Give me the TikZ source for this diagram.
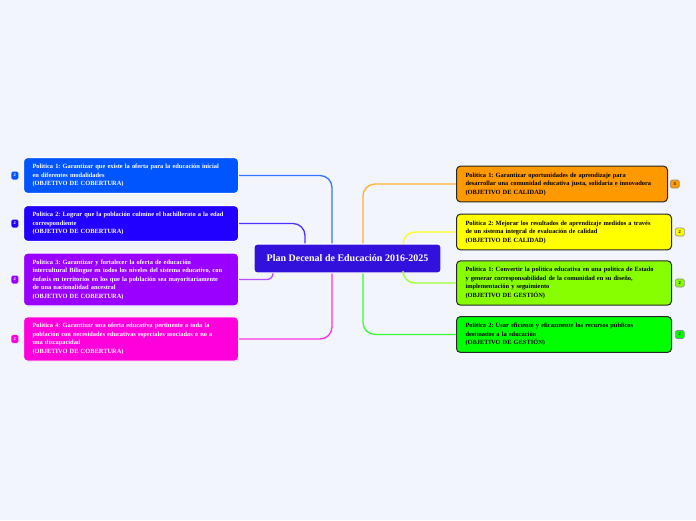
\documentclass[tikz,border=0pt]{standalone}
\usepackage{fontspec}
\setmainfont{Liberation Serif}
\usetikzlibrary{positioning,shadows}
\frenchspacing
\definecolor{plbg}{HTML}{F3F5FD}
\definecolor{plmain}{HTML}{3311DD}
\definecolor{cobA}{HTML}{0055FF}
\definecolor{cobB}{HTML}{2200FF}
\definecolor{cobC}{HTML}{9900FF}
\definecolor{cobD}{HTML}{FF00DD}
\definecolor{calA}{HTML}{FF9900}
\definecolor{calB}{HTML}{FFFF00}
\definecolor{gesA}{HTML}{88FF00}
\definecolor{gesB}{HTML}{00FF00}
\tikzset{
  bx/.style={rounded corners=4pt, align=left, anchor=west, font=\fontsize{6.4}{8.5}\selectfont\bfseries, inner xsep=9pt, inner ysep=6.5pt, text width=197pt},
  cob/.style={bx, draw=white, line width=1pt, text=white, drop shadow={opacity=0.25, shadow xshift=0.6pt, shadow yshift=-0.8pt}},
  cal/.style={bx, draw=black!85, line width=1pt, text=black},
  badge/.style={rounded corners=1.5pt, font=\fontsize{4.5}{5}\selectfont\bfseries, inner sep=0.8pt, minimum width=7pt, minimum height=8pt},
  rbadge/.style={badge, draw=black!45, line width=0.6pt, minimum width=9pt, text=black},
  link/.style={line width=1.3pt, rounded corners=12pt},
}
\begin{document}
\begin{tikzpicture}[x=1pt, y=-1pt]
  \fill[plbg] (0,0) rectangle (696,520);
  \useasboundingbox (0,0) rectangle (696,520);
  % centro
  \node[rounded corners=3pt, fill=plmain, draw=white, line width=1.2pt, text=white, font=\fontsize{10}{12}\selectfont\bfseries, minimum width=187pt, minimum height=29pt] (plan) at (347.5,258.5) {Plan Decenal de Educación 2016-2025};
  % cobertura
  \node[cob, fill=cobA] (l1) at (23,175.5) {Politica 1: Garantizar que existe la oferta para la educación inicial\\ en diferentes modalidades\\ (OBJETIVO DE COBERTURA)};
  \node[cob, fill=cobB] (l2) at (23,223.5) {Politica 2: Lograr que la población culmine el bachillerato a la edad\\ correspondiente\\ (OBJETIVO DE COBERTURA)};
  \node[cob, fill=cobC] (l3) at (23,279.5) {Politica 3: Garantizar y fortalecer la oferta de educación\\ intercultural Bilingue en todos los niveles del sistema educativo, con\\ énfasis en territorios en los que la población sea mayoritariamente\\ de una nacionalidad ancestral\\ (OBJETIVO DE COBERTURA)};
  \node[cob, fill=cobD] (l4) at (23,339) {Politica 4: Garantizar una oferta educativa pertinente a toda la\\ población con necesidades educativas especiales asociadas o no a\\ una discapacidad\\ (OBJETIVO DE COBERTURA)};
  % calidad y gestion
  \node[cal, fill=calA, text width=193pt] (r1) at (456,184) {Politica 1: Garantizar oportunidades de aprendizaje para\\ desarrollar una comunidad educativa justa, solidaria e innovadora\\ (OBJETIVO DE CALIDAD)};
  \node[cal, fill=calB] (r2) at (456,232) {Politica 2: Mejorar los resultados de aprendizaje medidos a través\\ de un sistema integral de evaluación de calidad\\ (OBJETIVO DE CALIDAD)};
  \node[cal, fill=gesA] (r3) at (456,283) {Politica 1: Convertir la politica educativa en una politica de Estado\\ y generar corresponsabilidad de la comunidad en su diseño,\\ implementación y seguimiento\\ (OBJETIVO DE GESTIÓN)};
  \node[cal, fill=gesB] (r4) at (456,334.5) {Politica 2: Usar eficiente y eficazmente los recursos públicos\\ destinados a la educación\\ (OBJETIVO DE GESTIÓN)};
  % contadores
  \foreach \n/\c in {l1/cobA,l2/cobB,l3/cobC,l4/cobD}
    \node[badge, fill=\c, text=white, left=4.5pt of \n] (b\n) {2};
  \node[rbadge, fill=calA, right=2pt of r1] (br1) {3};
  \foreach \n/\c in {r2/calB,r3/gesA,r4/gesB}
    \node[rbadge, fill=\c, right=3pt of \n] (b\n) {2};
  % ramas
  \draw[link, cobA!80] ([xshift=-15.5pt]plan.north) |- (l1.east);
  \draw[link, cobB!80] ([xshift=-42.5pt]plan.north) |- (l2.east);
  \draw[link, cobC!70, rounded corners=6pt] ([xshift=-74.5pt]plan.south) |- (l3.east);
  \draw[link, cobD!80] ([xshift=-15.5pt]plan.south) |- (l4.east);
  \draw[link, calA!80] ([xshift=15.5pt]plan.north) |- (r1.west);
  \draw[link, calB!90] ([xshift=55.5pt]plan.north) |- (r2.west);
  \draw[link, gesA!80] ([xshift=55.5pt]plan.south) |- (r3.west);
  \draw[link, gesB!80] ([xshift=15.5pt]plan.south) |- (r4.west);
\end{tikzpicture}
\end{document}
